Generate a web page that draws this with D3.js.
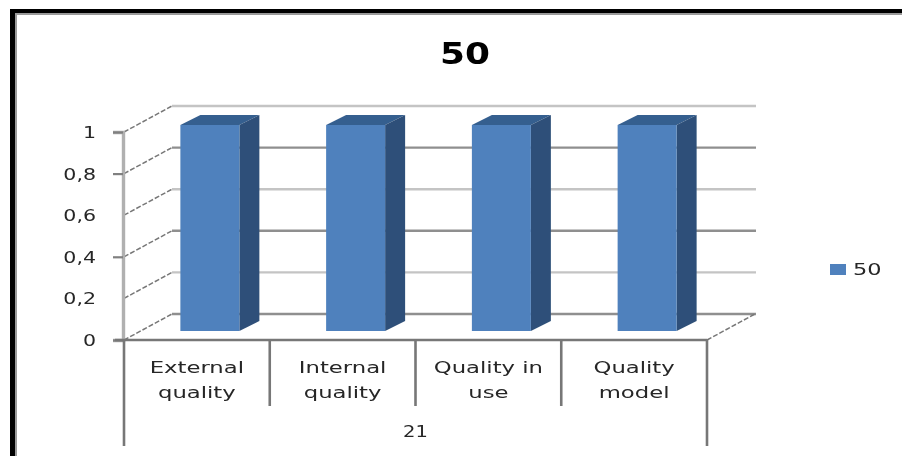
<!DOCTYPE html>
<html><head><meta charset="utf-8">
<script src="https://cdn.jsdelivr.net/npm/d3@7"></script>
<style>html,body{margin:0;padding:0;background:#fff;overflow:hidden}svg{display:block}
text{font-family:"DejaVu Sans",sans-serif;fill:#262626}</style></head><body>
<svg id="c" width="902" height="456"></svg>
<script>
const title = "50";
const categories = ["External quality","Internal quality","Quality in use","Quality model"];
const categoryLines = [["External","quality"],["Internal","quality"],["Quality in","use"],["Quality","model"]];
const groupLabel = "21";
const seriesName = "50";
const values = [1,1,1,1];
const yTicks = [0,0.2,0.4,0.6,0.8,1];
const yTickMarks = [0,0.4,0.8,1];

const svg = d3.select("#c");
const defs = svg.append("defs");
defs.append("filter").attr("id","soft").attr("x","-5%").attr("y","-5%").attr("width","110%").attr("height","110%")
  .append("feGaussianBlur").attr("stdDeviation",0.7);
defs.append("filter").attr("id","softT").attr("x","-5%").attr("y","-5%").attr("width","110%").attr("height","110%")
  .append("feGaussianBlur").attr("stdDeviation",0.75);

// picture frame
svg.append("rect").attr("x",10).attr("y",9).attr("width",892).attr("height",447).attr("fill","#000");
svg.append("rect").attr("x",15).attr("y",13).attr("width",887).attr("height",443).attr("fill","#9a9a9a");
svg.append("rect").attr("x",17).attr("y",15).attr("width",885).attr("height",441).attr("fill","#fff");

const g = svg.append("g").attr("filter","url(#soft)");
const gt = svg.append("g").attr("filter","url(#softT)");

const y = d3.scaleLinear().domain([0,1]).range([340,132]);
const x = d3.scaleBand().domain(categories).range([124,707]);
const wall = {dx:48, dy:-26};
const barDepth = {dx:20, dy:-10};
const barOff = {dx:13, dy:-9};
const barW = 59;
const fmt = d3.formatLocale({decimal:",",thousands:".",grouping:[3],currency:["",""]}).format("~g");
const stretch = (sel,k)=>sel.each(function(){
  this.setAttribute("textLength",this.getComputedTextLength()*k);
  this.setAttribute("lengthAdjust","spacingAndGlyphs");
});

// back wall gridlines
g.selectAll("line.grid").data(yTicks).join("line")
  .attr("x1",x.range()[0]+wall.dx).attr("x2",x.range()[1]+wall.dx+1)
  .attr("y1",d=>y(d)+wall.dy).attr("y2",d=>y(d)+wall.dy)
  .attr("stroke",(d,i)=>i%2?"#c4c4c4":"#8f8f8f").attr("stroke-width",2.4);
// side wall dashed
g.selectAll("line.side").data(yTicks).join("line")
  .attr("x1",x.range()[0]).attr("y1",d=>y(d))
  .attr("x2",x.range()[0]+wall.dx).attr("y2",d=>y(d)+wall.dy)
  .attr("stroke","#777").attr("stroke-width",1.5).attr("stroke-dasharray","5 2");
// floor right edge
g.append("line").attr("x1",x.range()[1]).attr("y1",y(0))
  .attr("x2",x.range()[1]+wall.dx).attr("y2",y(0)+wall.dy)
  .attr("stroke","#777").attr("stroke-width",1.5).attr("stroke-dasharray","5 2");

// bars
const barX = d=>x(d)+(x.bandwidth()-barW)/2+barOff.dx;
const bars = g.selectAll("g.bar").data(categories.map((c,i)=>({c,v:values[i]}))).join("g");
bars.append("path").attr("fill","#365f8f")
  .attr("d",d=>{const l=barX(d.c),t=y(d.v)+barOff.dy+2;
    return `M${l},${t}L${l+barDepth.dx},${t+barDepth.dy}L${l+barW+barDepth.dx},${t+barDepth.dy}L${l+barW},${t}Z`;});
bars.append("path").attr("fill","#2f5079")
  .attr("d",d=>{const l=barX(d.c)+barW,t=y(d.v)+barOff.dy+2,b=y(0)+barOff.dy;
    return `M${l},${t}L${l+barDepth.dx},${t+barDepth.dy}L${l+barDepth.dx},${b+barDepth.dy}L${l},${b}Z`;});
bars.append("rect").attr("fill","#4f81bd")
  .attr("x",d=>barX(d.c)).attr("width",barW)
  .attr("y",d=>y(d.v)+barOff.dy+2).attr("height",d=>y(0)-y(d.v)-2);

// y axis
const ya = g.append("g").attr("transform",`translate(${x.range()[0]-1},0)`)
  .call(d3.axisLeft(y).tickValues(yTickMarks).tickSize(10).tickFormat(""));
ya.select("path.domain").attr("stroke","#b0b0b0").attr("stroke-width",3.4);
ya.selectAll("line").attr("stroke","#808080").attr("stroke-width",2.2);
stretch(gt.selectAll("text.ylab").data(yTicks).join("text").attr("class","ylab")
  .attr("x",96).attr("y",d=>y(d)+6).attr("text-anchor","end").attr("font-size",15).text(d=>fmt(d)),1.37);

// category axis
const edges = categories.map(c=>x(c)).concat(x.range()[1]);
g.append("line").attr("x1",115).attr("x2",x.range()[1]).attr("y1",y(0)).attr("y2",y(0))
  .attr("stroke","#777").attr("stroke-width",2.6);
g.selectAll("line.sep").data(edges).join("line")
  .attr("x1",d=>d).attr("x2",d=>d).attr("y1",y(0))
  .attr("y2",(d,i)=>(i===0||i===categories.length)?446:406)
  .attr("stroke","#777").attr("stroke-width",2.6);
categories.forEach((c,i)=>{
  categoryLines[i].forEach((line,j)=>{
    stretch(gt.append("text").attr("x",x(c)+x.bandwidth()/2).attr("y",373+j*25)
      .attr("text-anchor","middle").attr("font-size",16).text(line),1.42);
  });
});
stretch(gt.append("text").attr("x",(x.range()[0]+x.range()[1])/2).attr("y",437).attr("text-anchor","middle")
  .attr("font-size",15).text(groupLabel),1.3);

// title
gt.append("text").attr("x",465).attr("y",64).attr("text-anchor","middle").attr("font-size",30)
  .attr("font-weight","bold").style("fill","#000").attr("textLength",50).attr("lengthAdjust","spacingAndGlyphs").text(title);

// legend
g.append("rect").attr("x",830).attr("y",264).attr("width",16).attr("height",11).attr("fill","#4f81bd");
stretch(gt.append("text").attr("x",853).attr("y",275).attr("font-size",16).text(seriesName),1.4);
</script></body></html>
